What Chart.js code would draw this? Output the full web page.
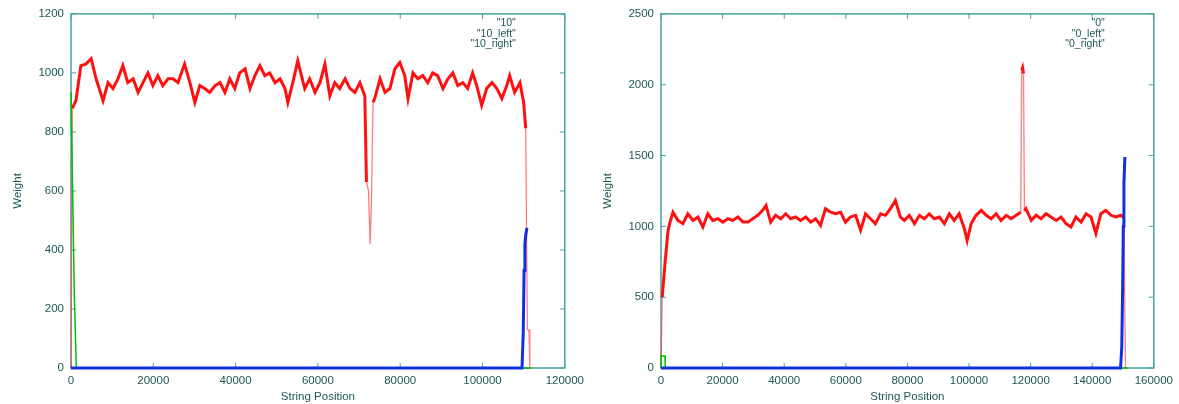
<!DOCTYPE html>
<html>
<head>
<meta charset="utf-8">
<script src="https://cdn.jsdelivr.net/npm/chart.js@4.4.1/dist/chart.umd.min.js"></script>
<style>
  body { margin: 0; background: #fff; }
  .panel { position: absolute; top: 0; height: 404px; }
  #left { left: 0; width: 590px; }
  #right { left: 590px; width: 589px; }
</style>
</head>
<body>
<div class="panel" id="left"><canvas id="chart10"></canvas></div>
<div class="panel" id="right"><canvas id="chart0"></canvas></div>
<script>
// weight along the string, file "10"
const pos10 = [0, 300, 1200, 2400, 3600, 4900, 6100, 7800, 9000, 10200,
  11400, 12600, 13800, 15100, 16300, 17500, 18700, 19900, 21100, 22300,
  23600, 24800, 26000, 27600, 28900, 30100, 31300, 32500, 33700, 35000,
  36200, 37400, 38600, 39800, 41000, 42300, 43500, 44700, 45900, 47100,
  48300, 49600, 50800, 52000, 52700, 53900, 55100, 56800, 58000, 59300,
  60500, 61700, 62900, 64100, 65300, 66600, 67800, 69000, 70200, 71400,
  71800, 72300, 72700, 73000, 73400, 73800, 75100, 76300, 77500, 78700,
  79900, 81100, 81900, 83100, 84300, 85500, 86700, 87900, 89100, 90400,
  91600, 92800, 94000, 95200, 96400, 97600, 98600, 99800, 101000, 102300,
  103500, 104700, 105900, 106600, 107800, 109100, 110000, 110500, 110900, 111300,
  111500];
const weight10 = [0, 880, 906, 1025, 1030, 1048, 980, 906, 967, 947,
  980, 1025, 967, 980, 934, 967, 1000, 957, 991, 957,
  980, 980, 967, 1030, 967, 900, 957, 947, 934, 957,
  967, 934, 980, 947, 1000, 1014, 947, 991, 1025, 991,
  1000, 967, 980, 947, 900, 967, 1041, 947, 980, 934,
  967, 1030, 922, 967, 947, 980, 947, 934, 967, 922,
  630, 600, 420, 560, 900, 913, 980, 934, 947, 1014,
  1035, 991, 913, 1000, 980, 991, 967, 1000, 991, 947,
  980, 1000, 957, 967, 947, 1000, 957, 890, 947, 967,
  947, 913, 957, 991, 934, 967, 900, 812, 130, 130,
  0];
const pos10Left = [0, 400, 800, 1300, 111800];
const weight10Left = [935, 600, 250, 0, 0];
const pos10Right = [0, 109600, 109900, 110100, 110300, 110500, 110800];
const weight10Right = [0, 0, 120, 330, 420, 450, 475];

// weight along the string, file "0"
const pos0 = [0, 400, 1300, 2300, 2800, 3900, 5500, 7100, 8700, 10400,
  12000, 13600, 15200, 16800, 18500, 20100, 21700, 23300, 25000, 26600,
  28200, 29800, 31400, 33000, 34100, 35600, 37200, 38900, 40500, 42100,
  43700, 45300, 47000, 48600, 50200, 51800, 53400, 55100, 56700, 58300,
  59900, 61500, 63200, 64800, 66400, 68000, 69600, 71300, 72900, 74500,
  76100, 77700, 79000, 80600, 82300, 83900, 85500, 87100, 88700, 90400,
  92000, 93600, 95200, 96800, 98500, 99400, 100700, 102300, 104000, 105600,
  107200, 108800, 110400, 112100, 113700, 115300, 116800, 117100, 117400, 117700,
  118000, 118500, 120200, 121800, 123400, 125000, 126600, 128300, 129900, 131500,
  133100, 134700, 136400, 138000, 139600, 141200, 142800, 144400, 146100, 147700,
  149300, 150300, 150800];
const weight0 = [0, 500, 740, 972, 1019, 1100, 1042, 1019, 1089, 1042,
  1066, 995, 1089, 1042, 1054, 1030, 1054, 1042, 1066, 1030,
  1030, 1054, 1078, 1113, 1148, 1030, 1078, 1054, 1089, 1054,
  1066, 1042, 1066, 1030, 1054, 1007, 1125, 1100, 1089, 1100,
  1030, 1066, 1078, 972, 1089, 1054, 1019, 1089, 1078, 1125,
  1183, 1066, 1042, 1078, 1019, 1078, 1054, 1089, 1054, 1066,
  1019, 1089, 1042, 1089, 983, 900, 1019, 1078, 1113, 1078,
  1054, 1089, 1042, 1078, 1054, 1078, 1100, 2100, 2120, 2080,
  1110, 1125, 1042, 1078, 1054, 1089, 1066, 1042, 1066, 1019,
  995, 1066, 1030, 1089, 1066, 950, 1089, 1113, 1078, 1066,
  1078, 1060, 0];
const pos0Left = [0, 0, 1300, 1400, 151500];
const weight0Left = [0, 85, 85, 0, 0];
const pos0Right = [0, 149200, 149600, 149900, 150100, 150300, 150600];
const weight0Right = [0, 0, 150, 600, 1000, 1300, 1490];

const xTicks10 = [0, 20000, 40000, 60000, 80000, 100000, 120000];
const yTicks10 = [0, 200, 400, 600, 800, 1000, 1200];
const xTicks0 = [0, 20000, 40000, 60000, 80000, 100000, 120000, 140000, 160000];
const yTicks0 = [0, 500, 1000, 1500, 2000, 2500];

const keys10 = ['"10"', '"10_left"', '"10_right"'];
const keys0 = ['"0"', '"0_left"', '"0_right"'];

const FRAME = '#45a3a2';
const TEXT = '#1f5656';
const FAMILY = '"Liberation Sans", Arial, sans-serif';
const FONT = { family: FAMILY, size: 11.5 };

const zip = (xs, ys) => xs.map((x, i) => ({ x: x, y: ys[i] }));

// gnuplot-style box with inward ticks on all four sides, plus the key text
const gnuplotFrame = {
  id: 'gnuplotFrame',
  beforeDatasetsDraw(chart) {
    const { ctx, chartArea: a, scales } = chart;
    ctx.save();
    ctx.strokeStyle = FRAME;
    ctx.lineWidth = 1.5;
    ctx.strokeRect(a.left, a.top, a.right - a.left, a.bottom - a.top);
    ctx.lineWidth = 1;
    ctx.beginPath();
    scales.x.ticks.forEach(t => {
      const px = scales.x.getPixelForValue(t.value);
      ctx.moveTo(px, a.bottom); ctx.lineTo(px, a.bottom - 5);
      ctx.moveTo(px, a.top); ctx.lineTo(px, a.top + 5);
    });
    scales.y.ticks.forEach(t => {
      const py = scales.y.getPixelForValue(t.value);
      ctx.moveTo(a.left, py); ctx.lineTo(a.left + 5, py);
      ctx.moveTo(a.right, py); ctx.lineTo(a.right - 5, py);
    });
    ctx.stroke();
    ctx.restore();
  },
  afterDraw(chart, args, opts) {
    const { ctx, chartArea: a } = chart;
    ctx.save();
    ctx.fillStyle = TEXT;
    ctx.font = '10.5px ' + FAMILY;
    ctx.textAlign = 'right';
    ctx.textBaseline = 'middle';
    (opts.labels || []).forEach((s, i) => {
      ctx.fillText(s, a.right - 49, a.top + 9 + i * 10.8);
    });
    ctx.restore();
  }
};

// jumps and dips of the red trace come out as thin pale strokes
const thinJump = ctx => {
  const y0 = ctx.p0.parsed.y, y1 = ctx.p1.parsed.y;
  return Math.abs(y1 - y0) > 300 || Math.max(y0, y1) < 700;
};

function makeChart(id, series, xTicks, yTicks, keys) {
  const colors = ['#ff1010', '#00c000', '#1030e0'];
  const widths = [3, 1.5, 3];
  return new Chart(document.getElementById(id), {
    type: 'line',
    data: {
      datasets: series.map((s, i) => ({
        label: keys[i],
        data: s,
        borderColor: colors[i],
        borderWidth: widths[i],
        pointRadius: 0,
        tension: 0,
        fill: false,
        order: 3 - i,
        clip: 4,
        segment: i === 0 ? {
          borderWidth: c => thinJump(c) ? 1.3 : undefined,
          borderColor: c => thinJump(c) ? 'rgba(255, 70, 70, 0.7)' : undefined
        } : {}
      }))
    },
    options: {
      responsive: true,
      maintainAspectRatio: false,
      animation: false,
      layout: { padding: { top: 13, right: 24, bottom: 0, left: 0 } },
      plugins: {
        legend: { display: false },
        tooltip: { enabled: false },
        gnuplotFrame: { labels: keys }
      },
      scales: {
        x: {
          type: 'linear',
          min: xTicks[0],
          max: xTicks[xTicks.length - 1],
          afterBuildTicks: sc => { sc.ticks = xTicks.map(v => ({ value: v })); },
          afterFit: sc => { sc.height = 36; },
          grid: { display: false, drawTicks: false },
          border: { display: false },
          ticks: { color: TEXT, font: FONT, padding: 6, maxRotation: 0, autoSkip: false, callback: v => String(v) },
          title: { display: true, text: 'String Position', color: TEXT, font: FONT, padding: { top: 0, bottom: 0 } }
        },
        y: {
          min: yTicks[0],
          max: yTicks[yTicks.length - 1],
          afterBuildTicks: sc => { sc.ticks = yTicks.map(v => ({ value: v })); },
          afterFit: sc => { sc.width = 71; },
          grid: { display: false, drawTicks: false },
          border: { display: false },
          ticks: { color: TEXT, font: FONT, padding: 7, autoSkip: false, callback: v => String(v) },
          title: { display: true, text: 'Weight', color: TEXT, font: FONT, padding: { top: 11, bottom: 0 } }
        }
      }
    },
    plugins: [gnuplotFrame]
  });
}

makeChart('chart10',
  [zip(pos10, weight10), zip(pos10Left, weight10Left), zip(pos10Right, weight10Right)],
  xTicks10, yTicks10, keys10);
makeChart('chart0',
  [zip(pos0, weight0), zip(pos0Left, weight0Left), zip(pos0Right, weight0Right)],
  xTicks0, yTicks0, keys0);
</script>
</body>
</html>
